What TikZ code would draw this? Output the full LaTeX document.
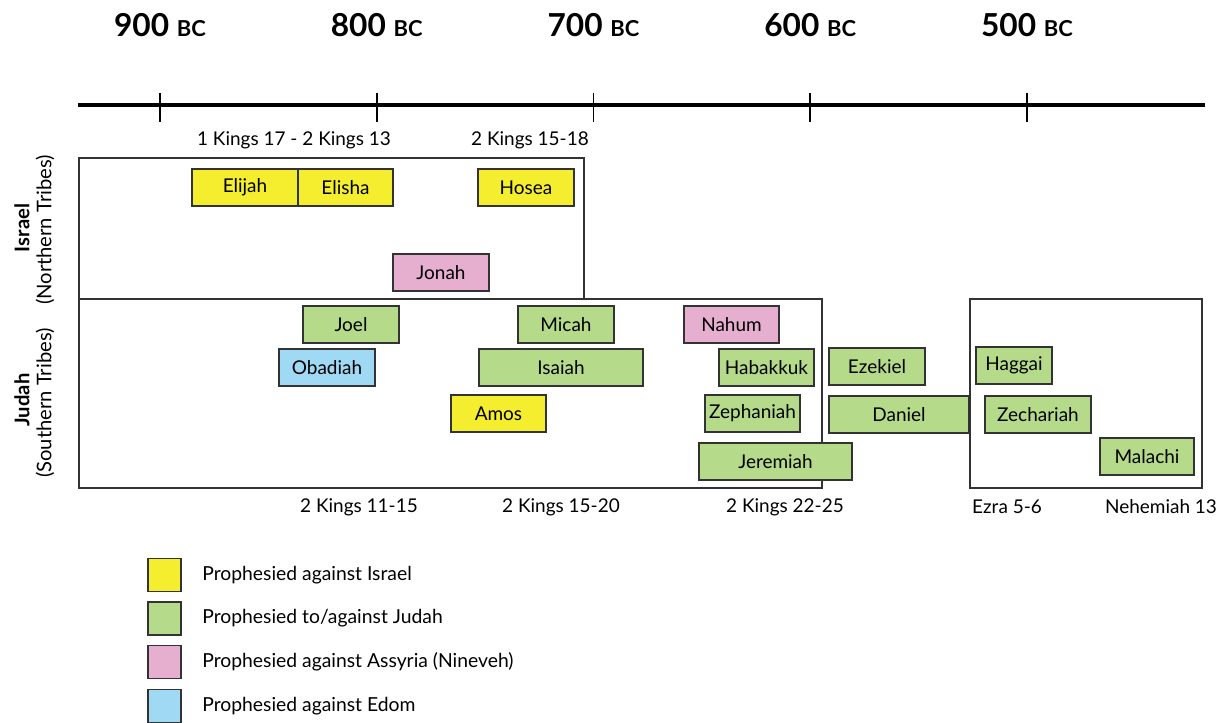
\documentclass[tikz,border=0pt]{standalone}
\usepackage{fontspec}
\setmainfont{Lato}
\usetikzlibrary{positioning}

\definecolor{isrcol}{HTML}{F5EE2E}
\definecolor{judcol}{HTML}{B4DA8A}
\definecolor{asscol}{HTML}{E6AFD0}
\definecolor{edocol}{HTML}{9FD9F3}
\definecolor{edgecol}{HTML}{333333}

\tikzset{
	pbox/.style={draw=edgecol, line width=1.1pt, inner sep=0pt, minimum height=0.74cm, font=\fontsize{10.8}{12}\selectfont},
	frame/.style={draw=edgecol, line width=0.9pt},
	reftext/.style={font=\fontsize{10.8}{12}\selectfont},
	sidetext/.style={rotate=90, font=\fontsize{11.5}{13}\selectfont},
	sidebold/.style={rotate=90, font=\fontsize{11.5}{13}\selectfont\bfseries},
	yeartext/.style={font=\fontsize{18}{20}\selectfont\bfseries},
	swatch/.style={draw=edgecol, line width=1.1pt, minimum size=0.66cm, inner sep=0pt},
	legtext/.style={font=\fontsize{11}{13}\selectfont, anchor=west, inner sep=0pt},
}

\begin{document}
\begin{tikzpicture}[x=0.02cm,y=-0.02cm]
\useasboundingbox (0,0) rectangle (1225,723);

% time axis
\coordinate (axl) at (78,105);
\coordinate (axr) at (1205,105);
\draw[line width=2.3pt] (axl) -- (axr);

\foreach \i/\yr in {1/900,2/800,3/700,4/600,5/500} {
	\pgfmathsetmacro{\x}{160+(\i-1)*216.75}
	\node[yeartext] (yr\i) at (\x,25) {\yr\ {\fontsize{12.5}{14}\selectfont BC}};
	\coordinate (tt\i) at (\x,93);
	\coordinate (tb\i) at (\x,122);
	\draw[line width=0.9pt] (tt\i) -- (tb\i);
}

% kingdom frames
\draw[frame] (79,158) rectangle (584,299);
\draw[frame] (79,299) rectangle (822,488);
\draw[frame] (970,299) rectangle (1202,488);

\node[sidebold] (israel) at (22,228) {Israel};
\node[sidetext] (north) at (45,230) {(Northern Tribes)};
\node[sidebold] (judah) at (22,400) {Judah};
\node[sidetext] (south) at (45,403) {(Southern Tribes)};

% references
\node[reftext] (ref1) at (294,140) {1 Kings 17 - 2 Kings 13};
\node[reftext] (ref2) at (530,140) {2 Kings 15-18};
\node[reftext] (ref3) at (359,507) {2 Kings 11-15};
\node[reftext] (ref4) at (561,507) {2 Kings 15-20};
\node[reftext] (ref5) at (785,507) {2 Kings 22-25};
\node[reftext] (ref6) at (1007,507) {Ezra 5-6};
\node[reftext] (ref7) at (1161,507) {Nehemiah 13};

% prophets
\foreach \nm/\xa/\xb/\ya/\col/\txt in {
	elijah/192/298/169/isrcol/Elijah,
	elisha/298/393/169/isrcol/Elisha,
	hosea/478/574/169/isrcol/Hosea,
	jonah/393/489/254/asscol/Jonah,
	joel/303/399/306/judcol/Joel,
	micah/518/614/306/judcol/Micah,
	nahum/684/779/306/asscol/Nahum,
	obadiah/279/375/349/edocol/Obadiah,
	isaiah/479/643/349/judcol/Isaiah,
	habakkuk/719/814/349/judcol/Habakkuk,
	ezekiel/829/925/348/judcol/Ezekiel,
	haggai/976/1052/347/judcol/Haggai,
	amos/451/546/395/isrcol/Amos,
	zephaniah/705/800/395/judcol/Zephaniah,
	daniel/829/969/396/judcol/Daniel,
	zechariah/985/1091/396/judcol/Zechariah,
	jeremiah/699/852/443/judcol/Jeremiah,
	malachi/1100/1194/438/judcol/Malachi} {
	\node[pbox, fill=\col, minimum width={(\xb-\xa)*0.02cm}] (\nm) at ({(\xa+\xb)/2},\ya+18.5) {\txt};
}

% legend
\node[swatch, fill=isrcol] (sw1) at (164.5,575) {};
\node[swatch, fill=judcol] (sw2) at (164.5,618.5) {};
\node[swatch, fill=asscol] (sw3) at (164.5,662) {};
\node[swatch, fill=edocol] (sw4) at (164.5,706) {};
\node[legtext, right=0.4cm of sw1] (lg1) {Prophesied against Israel};
\node[legtext, right=0.4cm of sw2] (lg2) {Prophesied to/against Judah};
\node[legtext, right=0.4cm of sw3] (lg3) {Prophesied against Assyria (Nineveh)};
\node[legtext, right=0.4cm of sw4] (lg4) {Prophesied against Edom};

\end{tikzpicture}
\end{document}
